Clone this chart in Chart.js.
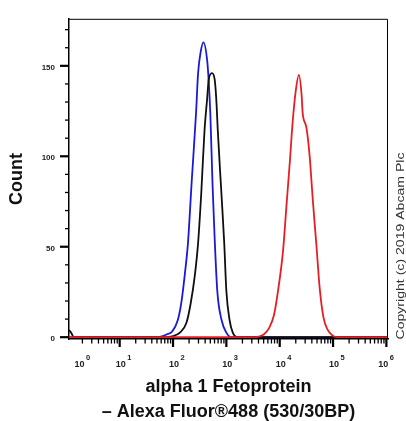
<!DOCTYPE html>
<html>
<head>
<meta charset="utf-8">
<script src="https://cdn.jsdelivr.net/npm/chart.js@4/dist/chart.umd.min.js"></script>
<style>
  html, body { margin: 0; padding: 0; background: #fff; }
  #wrap { width: 406px; height: 421px; position: relative; }
</style>
</head>
<body>
<div id="wrap"><canvas id="grafico"></canvas></div>
<script>
// x is in display units of the cytometer axis: 1 = 10^1, 2 = 10^2 ...
// (below 10^1 the axis is compressed, so the 10^0 label sits inside the box)
const redX = [0.05, 3.53, 3.62, 3.70, 3.80, 3.89, 3.96, 4.06, 4.13, 4.19, 4.24, 4.30, 4.36, 4.41, 4.43, 4.50, 4.56, 4.62, 4.69, 4.75, 4.82, 4.90, 4.99, 5.07, 6.03];
const redY = [0, 0, 0.5, 1.5, 5, 12, 24, 47, 74, 97, 118, 136, 145, 134, 124, 116, 100.5, 76, 50, 27, 11, 4, 1, 0, 0];

const blackX = [0.05, 0.09, 0.14, 1.86, 1.98, 2.13, 2.25, 2.33, 2.41, 2.47, 2.53, 2.59, 2.64, 2.67, 2.73, 2.78, 2.81, 2.84, 2.88, 2.92, 2.96, 3.00, 3.06, 3.12, 3.21, 6.03];
const blackY = [4, 2.5, 0, 0, 0.4, 2.5, 7.8, 18.5, 34.5, 52, 80, 114, 132, 142.6, 146, 142.6, 132, 114, 93, 73, 52, 25.5, 9.5, 2.5, 0, 0];

const blueX = [0.05, 1.71, 1.79, 1.88, 1.98, 2.09, 2.16, 2.22, 2.28, 2.35, 2.43, 2.47, 2.52, 2.57, 2.64, 2.67, 2.70, 2.74, 2.78, 2.83, 2.91, 3.00, 3.09, 6.03];
const blueY = [0, 0, 0.4, 1.5, 3, 9.5, 20, 34.5, 52, 86, 123, 146, 158, 163, 153, 141, 123, 85, 55, 25.5, 9.5, 2.5, 0, 0];

const xTickPos = [0.23, 1, 2, 3, 4, 5, 5.92];
const xTickExp = ['0', '1', '2', '3', '4', '5', '6'];
const yTickLabels = [0, 50, 100, 150];
const yTickStep = 10;

const pts = (xs, ys) => xs.map((x, i) => ({ x: x, y: ys[i] }));

// ticks, frame, log axis labels and the copyright line
const frame = {
  id: 'frame',
  afterDraw(chart) {
    const { ctx, chartArea: a, scales: { x, y } } = chart;
    ctx.save();
    ctx.strokeStyle = '#000';
    ctx.lineWidth = 1;
    ctx.beginPath();
    ctx.moveTo(a.left, a.top + 0.5);
    ctx.lineTo(a.right - 0.5, a.top + 0.5);
    ctx.lineTo(a.right - 0.5, a.bottom);
    ctx.stroke();

    y.ticks.forEach(t => {
      const py = y.getPixelForValue(t.value);
      const major = yTickLabels.includes(t.value);
      ctx.lineWidth = major ? 2.2 : 1.3;
      ctx.beginPath();
      ctx.moveTo(a.left - (major ? 9 : 4), py);
      ctx.lineTo(a.left, py);
      ctx.stroke();
    });

    for (let d = 0; d <= 6; d++) {
      for (let k = 1; k <= 9; k++) {
        const v = d + Math.log10(k);
        if (v < x.min || v > x.max) continue;
        const px = x.getPixelForValue(v);
        const major = k === 1;
        ctx.lineWidth = major ? 2.2 : 1.3;
        ctx.beginPath();
        ctx.moveTo(px, a.bottom);
        ctx.lineTo(px, a.bottom + (major ? 8 : 4.5));
        ctx.stroke();
      }
    }

    ctx.fillStyle = '#222';
    xTickPos.forEach((v, i) => {
      const px = x.getPixelForValue(v) + 1;
      ctx.font = 'bold 9px Arial, "Liberation Sans", sans-serif';
      ctx.textAlign = 'center';
      ctx.textBaseline = 'alphabetic';
      ctx.fillText('10', px, a.bottom + 28);
      const w = ctx.measureText('10').width;
      ctx.font = 'bold 7.5px Arial, "Liberation Sans", sans-serif';
      ctx.textAlign = 'left';
      ctx.fillText(xTickExp[i], px + w / 2 + 1.5, a.bottom + 21);
    });

    ctx.fillStyle = '#333';
    ctx.translate(401, 246);
    ctx.rotate(-Math.PI / 2);
    ctx.font = '10.5px Arial, "Liberation Sans", sans-serif';
    const txt = 'Copyright (c) 2019 Abcam Plc';
    const tw = ctx.measureText(txt).width;
    ctx.scale(187 / tw, 1);
    ctx.textAlign = 'center';
    ctx.textBaseline = 'middle';
    ctx.fillText(txt, 0, 0);
    ctx.restore();
  }
};

new Chart(document.getElementById('grafico'), {
  type: 'line',
  data: {
    datasets: [{
      label: 'alpha 1 Fetoprotein',
      data: pts(redX, redY),
      borderColor: 'rgb(230,30,35)',
      borderWidth: 1.8
    }, {
      label: 'control 1',
      data: pts(blackX, blackY),
      borderColor: 'rgb(15,15,15)',
      borderWidth: 1.8
    }, {
      label: 'control 2',
      data: pts(blueX, blueY),
      borderColor: 'rgb(25,25,220)',
      borderWidth: 1.8
    }]
  },
  options: {
    responsive: true,
    maintainAspectRatio: false,
    animation: false,
    layout: { padding: { top: 9, right: 18, left: 0, bottom: 0 } },
    elements: {
      point: { radius: 0 },
      line: { cubicInterpolationMode: 'monotone', fill: false }
    },
    plugins: { legend: { display: false }, tooltip: { enabled: false } },
    scales: {
      x: {
        type: 'linear',
        min: 0.05,
        max: 6.03,
        grid: { display: false, drawTicks: false },
        border: { display: true, color: '#000', width: 1.5 },
        ticks: { display: false },
        afterFit: s => { s.height = 82; },
        title: {
          display: true,
          text: ['alpha 1 Fetoprotein', '\u2013 Alexa Fluor\u00AE488 (530/30BP)'],
          color: '#111',
          font: { family: 'Arial, "Liberation Sans", sans-serif', size: 18, weight: 'bold', lineHeight: 1.39 },
          padding: { top: 0, bottom: -4 }
        }
      },
      y: {
        min: -1,
        max: 176,
        grid: { display: false, drawTicks: false },
        border: { display: true, color: '#000', width: 1.5 },
        afterFit: s => { s.width = 69; },
        afterBuildTicks: s => {
          const t = [];
          for (let v = 0; v <= s.max; v += yTickStep) t.push({ value: v });
          s.ticks = t;
        },
        ticks: {
          padding: 14,
          labelOffset: 2,
          color: '#222',
          font: { family: 'Arial, "Liberation Sans", sans-serif', size: 8, weight: 'bold' },
          callback: v => (yTickLabels.includes(v) ? String(v) : '')
        },
        title: {
          display: true,
          text: 'Count',
          color: '#111',
          font: { family: 'Arial, "Liberation Sans", sans-serif', size: 18, weight: 'bold', lineHeight: 1.2 },
          padding: { top: 6, bottom: 0 }
        }
      }
    }
  },
  plugins: [frame]
});
</script>
</body>
</html>
